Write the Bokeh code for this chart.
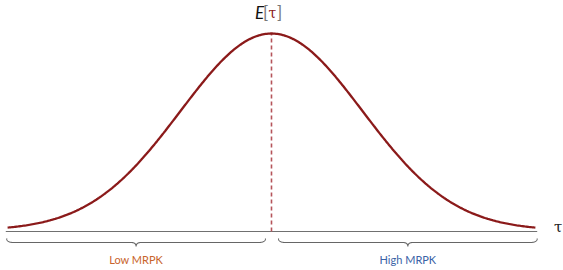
import numpy as np
from bokeh.plotting import figure
from bokeh.models import Range1d, ColumnDataSource
from bokeh.core.properties import value
from bokeh.embed import file_html
from bokeh.resources import INLINE

# ---- chart values ----
tau_mean = 0.0
tau_sd = 1.0
tau_min = -2.9
tau_max = 2.9
axis_end = 2.92
region_labels = ["Low MRPK", "High MRPK"]
axis_label = "τ"
mean_label = ["E", "[", "τ", "]"]

# ---- scales (pixels per data unit) ----
W, H = 563, 270
x0, x1 = -2.978, 3.209
y0, y1 = -0.198, 1.1726
sx = W / (x1 - x0)
sy = H / (y1 - y0)

def dx(px):
    return px / sx

def dy(px):
    return px / sy

p = figure(width=W, height=H, x_range=Range1d(x0, x1), y_range=Range1d(y0, y1),
           output_backend="svg", toolbar_location=None, min_border=0)
p.axis.visible = False
p.grid.visible = False
p.outline_line_color = None
p.background_fill_color = "white"
p.border_fill_color = "white"

# density curve
xs = np.linspace(tau_min, tau_max, 400)
ys = np.exp(-0.5 * ((xs - tau_mean) / tau_sd) ** 2) + 0.005
peak = 1.0 + 0.005

# horizontal axis
p.line([tau_min - 0.02, axis_end], [0, 0], line_color="#707070", line_width=1.2)

# dashed mean line
p.line([tau_mean, tau_mean], [0, peak], line_color="#b5545a", line_width=1.6,
       line_dash="4 3")

p.line(xs, ys, line_color="#8b1a1a", line_width=2.3)

# braces
def brace(xa, xb):
    top = -dy(7)
    lin = -dy(11)
    tip = -dy(15)
    mid = 0.5 * (xa + xb)
    t = np.linspace(0, 1, 20)
    def quad(P0, C, P1):
        return ((1 - t) ** 2 * P0[0] + 2 * (1 - t) * t * C[0] + t ** 2 * P1[0],
                (1 - t) ** 2 * P0[1] + 2 * (1 - t) * t * C[1] + t ** 2 * P1[1])
    e = dx(7)
    m = dx(5)
    a = quad((xa, top), (xa, lin), (xa + e, lin))
    b = quad((mid - m, lin), (mid, lin), (mid, tip))
    c = quad((mid, tip), (mid, lin), (mid + m, lin))
    d = quad((xb - e, lin), (xb, lin), (xb, top))
    X = np.concatenate([a[0], b[0], c[0], d[0]])
    Y = np.concatenate([a[1], b[1], c[1], d[1]])
    p.line(X, Y, line_color="#666666", line_width=1.1)
    return mid

gap_l = dx(6)
gap_r = dx(7)
mid_l = brace(tau_min - 0.01, tau_mean - gap_l)
mid_r = brace(tau_mean + gap_r, axis_end)

label_colors = ["#c8642c", "#3a62a6"]
src = ColumnDataSource(dict(x=[mid_l, mid_r], y=[-dy(28)] * 2, t=region_labels,
                            c=label_colors))
p.text("x", "y", text="t", text_color="c", source=src, text_font=value("Lato"),
       text_font_size="11px", text_align="center", text_baseline="middle")

# axis label tau
p.text([axis_end + dx(21)], [dy(4)], text=[axis_label], text_font=value("DejaVu Serif"),
       text_font_size="15px", text_align="center", text_baseline="middle",
       text_color="#222222")

# E[tau] label
ly = peak + dy(21)
p.text([tau_mean - dx(12)], [ly], text=[mean_label[0]], text_font=value("Lato"),
       text_font_style="italic", text_font_size="17px", text_align="center",
       text_baseline="middle", text_color="#111111")
p.text([tau_mean - dx(6)], [ly], text=[mean_label[1]], text_font=value("Lato"),
       text_font_size="17px", text_align="center", text_baseline="middle",
       text_color="#777777")
p.text([tau_mean + dx(1)], [ly], text=[mean_label[2]], text_font=value("DejaVu Serif"),
       text_font_size="14px", text_align="center", text_baseline="middle",
       text_color="#8b1a1a")
p.text([tau_mean + dx(8)], [ly], text=[mean_label[3]], text_font=value("Lato"),
       text_font_size="17px", text_align="center", text_baseline="middle",
       text_color="#777777")

open("out.html", "w").write(file_html(p, INLINE))
